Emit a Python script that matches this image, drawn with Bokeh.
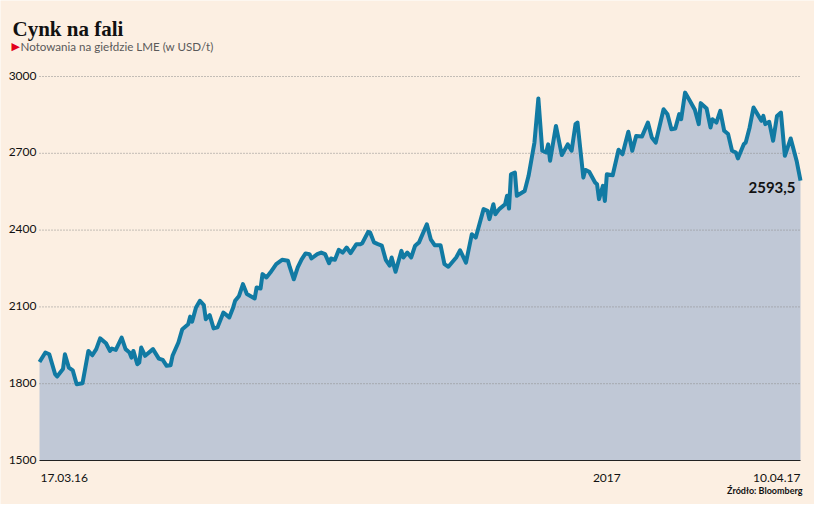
from bokeh.plotting import figure
from bokeh.models import ColumnDataSource, Label, Range1d
from bokeh.embed import file_html
from bokeh.resources import INLINE

# zinc price on LME, USD/t; x = days since 17.03.16
days = [0, 3, 5, 8, 9, 12, 13, 15, 17, 19, 22, 25, 27, 29, 31, 34, 36, 37, 39, 42,
        44, 46, 47, 48, 50, 51, 52, 54, 58, 61, 63, 65, 67, 68, 71, 73, 76, 77, 78, 80,
        82, 84, 85, 87, 89, 91, 94, 97, 99, 100, 102, 104, 106, 110, 111, 113, 114, 116, 118, 121,
        124, 127, 128, 130, 132, 134, 136, 138, 139, 142, 144, 146, 148, 149, 151, 153, 155, 157, 159, 162,
        164, 165, 168, 169, 171, 173, 175, 177, 179, 180, 182, 185, 186, 188, 190, 192, 194, 198, 200, 202,
        205, 207, 209, 213, 215, 218, 221, 223, 227, 229, 230, 232, 233, 235, 238, 239, 240, 241, 243, 244,
        248, 250, 253, 255, 257, 259, 260, 261, 264, 267, 270, 272, 274, 275, 278, 279, 281, 284, 285, 286,
        288, 289, 290, 293, 296, 298, 301, 303, 305, 308, 311, 313, 315, 319, 321, 323, 325, 327, 328, 330,
        332, 335, 337, 338, 341, 343, 344, 346, 348, 350, 352, 354, 356, 357, 360, 361, 363, 365, 367, 369,
        370, 371, 373, 375, 377, 379, 381, 384, 387, 389]
prices = [1885, 1922, 1915, 1837, 1828, 1857, 1915, 1863, 1852, 1798, 1802, 1928, 1911, 1935, 1977, 1958, 1928, 1937, 1932, 1980,
          1935, 1922, 1902, 1928, 1876, 1883, 1941, 1909, 1935, 1898, 1893, 1870, 1872, 1909, 1961, 2013, 2032, 2062, 2042, 2098,
          2124, 2107, 2052, 2068, 2016, 2020, 2078, 2059, 2098, 2124, 2143, 2189, 2150, 2133, 2176, 2172, 2228, 2215, 2234, 2267,
          2284, 2280, 2254, 2208, 2254, 2286, 2309, 2306, 2289, 2306, 2312, 2306, 2271, 2289, 2284, 2323, 2312, 2332, 2310, 2345,
          2345, 2349, 2393, 2391, 2352, 2345, 2339, 2284, 2261, 2293, 2237, 2319, 2293, 2312, 2293, 2339, 2352, 2423, 2364, 2341,
          2341, 2267, 2257, 2293, 2321, 2273, 2384, 2371, 2482, 2475, 2443, 2501, 2462, 2482, 2501, 2534, 2484, 2618, 2625, 2534,
          2553, 2612, 2742, 2914, 2710, 2703, 2735, 2671, 2807, 2693, 2735, 2710, 2814, 2820, 2605, 2635, 2628, 2586, 2579, 2521,
          2573, 2514, 2618, 2614, 2714, 2696, 2784, 2710, 2768, 2766, 2820, 2762, 2742, 2872, 2853, 2794, 2797, 2853, 2833, 2937,
          2911, 2870, 2814, 2896, 2875, 2801, 2833, 2820, 2866, 2788, 2775, 2710, 2703, 2680, 2735, 2742, 2801, 2879, 2853, 2827,
          2846, 2814, 2823, 2749, 2846, 2859, 2690, 2758, 2671, 2593.5]

y_ticks = [1500, 1800, 2100, 2400, 2700, 3000]
x_tick_pos = [0, 290, 389]
x_tick_labels = ["17.03.16", "2017", "10.04.17"]
last_label = "2593,5"

BG = "#fcefe2"
FONT = "Lato"

x0, x1 = days[0], days[-1]
y0, y1 = y_ticks[0], y_ticks[-1]

# the frame covers the whole canvas so that titles and tick labels stay inside it;
# the chart area itself spans 761 x 384 px starting 39 px from the left, 76 px from the top
kx = 761 / (x1 - x0)
ky = 384 / (y1 - y0)

src = ColumnDataSource(dict(x=days, y=prices))

p = figure(width=814, height=504, output_backend="svg", toolbar_location=None,
           x_axis_location=None, y_axis_location=None,
           x_range=Range1d(x0 - 39 / kx, x1 + 14 / kx),
           y_range=Range1d(y0 - 44 / ky, y1 + 76 / ky),
           min_border=0)
p.background_fill_color = BG
p.border_fill_color = BG
p.outline_line_color = None
p.grid.visible = False

p.varea(x="x", y1=y0, y2="y", source=src, fill_color="#c0c8d6")
p.segment(x0=x0, x1=x1, y0=y_ticks[1:], y1=y_ticks[1:],
          line_color="#8a8a8a", line_width=1, line_dash="1 2")
p.segment(x0=x0, x1=x1, y0=y0, y1=y0, line_color="#222222", line_width=1.2)
p.line(x="x", y="y", source=src, line_color="#117aa3", line_width=4, line_join="round")

for t in y_ticks:
    p.add_layout(Label(x=x0, y=t, text=str(t), x_offset=-3, y_offset=1,
                       text_align="right", text_baseline="alphabetic",
                       text_font=FONT, text_font_size="12px", text_color="#111111"))

aligns = ["left", "center", "right"]
for pos, lab, al in zip(x_tick_pos, x_tick_labels, aligns):
    p.add_layout(Label(x=pos, y=y0, text=lab, x_offset=1 if al == "left" else 0, y_offset=-17,
                       text_align=al, text_baseline="alphabetic",
                       text_font=FONT, text_font_size="12px", text_color="#111111"))

p.add_layout(Label(x=days[-1], y=prices[-1], text=last_label, x_offset=-5, y_offset=-7,
                   text_align="right", text_baseline="alphabetic",
                   text_font=FONT, text_font_style="bold", text_font_size="15px",
                   text_color="#111111"))

# title block
p.add_layout(Label(x=x0, y=y1, text="Cynk na fali", x_offset=-27, y_offset=48,
                   text_align="left", text_baseline="alphabetic",
                   text_font="Liberation Serif", text_font_style="bold",
                   text_font_size="21px", text_color="#111111"))
p.add_layout(Label(x=x0, y=y1, text="\u25b6", x_offset=-28, y_offset=30,
                   text_align="left", text_baseline="alphabetic",
                   text_font="DejaVu Sans", text_font_size="11px", text_color="#e2001a"))
p.add_layout(Label(x=x0, y=y1, text="Notowania na giełdzie LME (w USD/t)", x_offset=-19, y_offset=30,
                   text_align="left", text_baseline="alphabetic",
                   text_font=FONT, text_font_size="11.6px", text_color="#5a5a5a"))
p.add_layout(Label(x=x1, y=y0, text="Źródło: Bloomberg", x_offset=2, y_offset=-30,
                   text_align="right", text_baseline="alphabetic",
                   text_font=FONT, text_font_style="bold", text_font_size="9px",
                   text_color="#111111"))

open("out.html", "w").write(file_html(p, INLINE))
